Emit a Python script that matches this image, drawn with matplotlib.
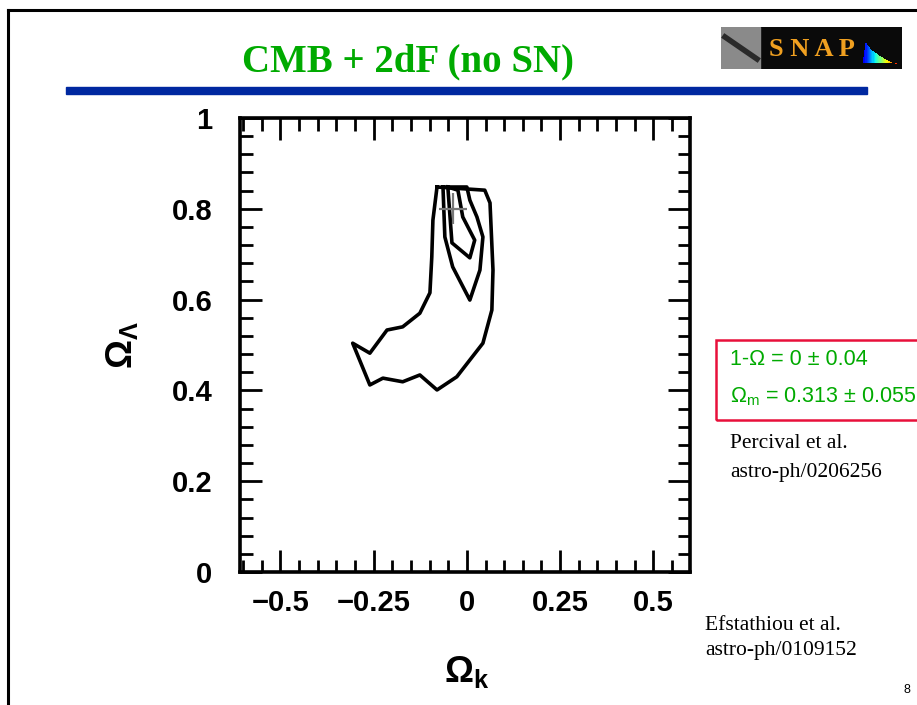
import matplotlib
matplotlib.use("Agg")
import matplotlib.pyplot as plt
from matplotlib.patches import Rectangle, Polygon
from matplotlib.ticker import MultipleLocator
import numpy as np

plt.rcParams['mathtext.fontset'] = 'custom'
plt.rcParams['mathtext.rm'] = 'Liberation Sans'
plt.rcParams['mathtext.it'] = 'Liberation Sans'
plt.rcParams['mathtext.bf'] = 'Liberation Sans:bold'

# contour outlines (Omega_k, Omega_Lambda)
outer_k = [-0.080, 0.048, 0.062, 0.070, 0.067, 0.043, 0.008, -0.027, -0.080,
           -0.126, -0.172, -0.225, -0.260, -0.306, -0.260, -0.214, -0.172,
           -0.126, -0.099, -0.094, -0.091, -0.080]
outer_l = [0.848, 0.841, 0.813, 0.665, 0.577, 0.504, 0.467, 0.430, 0.401,
           0.434, 0.419, 0.427, 0.412, 0.504, 0.482, 0.533, 0.540,
           0.570, 0.615, 0.694, 0.775, 0.848]
mid_k = [-0.064, -0.059, -0.038, 0.008, 0.035, 0.043, 0.027, 0.008, 0.0, -0.064]
mid_l = [0.848, 0.738, 0.672, 0.599, 0.665, 0.738, 0.782, 0.819, 0.848, 0.848]
inner_k = [-0.051, -0.040, 0.008, 0.021, -0.011, -0.024, -0.051]
inner_l = [0.848, 0.725, 0.692, 0.731, 0.782, 0.841, 0.848]
best_k, best_l = -0.038, 0.80
err_k, err_l = 0.038, 0.034

xticks = [-0.5, -0.25, 0, 0.25, 0.5]
xlabels = ['\u22120.5', '\u22120.25', '0', '0.25', '0.5']
yticks = [0, 0.2, 0.4, 0.6, 0.8, 1]
ylabels = ['0', '0.2', '0.4', '0.6', '0.8', '1']

green = '#00aa00'

fig = plt.figure(figsize=(9.17, 7.05), dpi=100)

# slide frame + header bar
fig.add_artist(plt.Line2D([8/917, 8/917], [0, 1 - 10/705], color='black', lw=2.2))
fig.add_artist(plt.Line2D([8/917, 1], [1 - 10/705, 1 - 10/705], color='black', lw=2.2))
fig.add_artist(Rectangle((66/917, 1 - 94/705), 801/917, 7/705, color='#0028a0'))
fig.text(408/917, 1 - 62/705, 'CMB + 2dF (no SN)', color=green, fontsize=28,
         fontweight='bold', family='Liberation Serif', ha='center', va='center')

# SNAP logo
lg = fig.add_axes([721/917, 1 - 69/705, 181/917, 42/705])
lg.set_xlim(0, 181)
lg.set_ylim(0, 42)
lg.axis('off')
lg.add_patch(Rectangle((0, 0), 181, 42, color='#0a0a0a'))
lg.add_patch(Rectangle((0, 0), 39, 42, color='#8a8a8a'))
lg.plot([4, 36], [32, 10], color='#2a2a2a', lw=4)
lg.text(91, 20, 'S N A P', color='#f0a020', fontsize=19, fontweight='bold',
        family='Liberation Serif', ha='center', va='center')
spec_x = np.linspace(142, 176, 30)
spec_cols = plt.cm.jet(np.linspace(0.1, 0.9, 30))
for i in range(29):
    top = 30 * (1 - (i / 29) ** 0.5) + 4 if i > 2 else 12 + i * 7
    lg.add_patch(Polygon([[spec_x[i], 6], [spec_x[i + 1], 6],
                          [spec_x[i + 1], min(top, 34)], [spec_x[i], min(top, 34)]],
                         color=spec_cols[i], lw=0))

# main plot
ax = fig.add_axes([240/917, 133/705, 450/917, 454/705])
ax.plot(outer_k, outer_l, color='black', lw=2.6)
ax.plot(mid_k, mid_l, color='black', lw=2.6)
ax.plot(inner_k, inner_l, color='black', lw=2.6)
ax.errorbar([best_k], [best_l], xerr=[err_k], yerr=[err_l], fmt='none',
            ecolor='#777777', elinewidth=1.6, capsize=0)

ax.set_xlim(-0.608, 0.598)
ax.set_ylim(0, 1)
ax.set_xticks(xticks)
ax.set_xticklabels(xlabels)
ax.set_yticks(yticks)
ax.set_yticklabels(ylabels)
ax.xaxis.set_minor_locator(MultipleLocator(0.05))
ax.yaxis.set_minor_locator(MultipleLocator(0.04))
ax.tick_params(which='both', direction='in', top=True, right=True, width=2)
ax.tick_params(which='major', length=16, labelsize=21, pad=12)
ax.tick_params(axis='y', which='major', pad=20)
ax.tick_params(which='minor', length=9)
for lab in ax.get_xticklabels() + ax.get_yticklabels():
    lab.set_fontweight('bold')
    lab.set_family('Liberation Sans')
for sp in ax.spines.values():
    sp.set_linewidth(2.6)

fig.text(467/917, 1 - 672/705, r'$\mathbf{\Omega_k}$', fontsize=26,
         ha='center', va='center')
fig.text(122/917, 1 - 345/705, r'$\mathbf{\Omega_\Lambda}$', fontsize=26,
         ha='center', va='center', rotation=90)

# result box
fig.add_artist(Rectangle((716/917, 1 - 420/705), 210/917, 80/705, fill=False,
                         edgecolor='#e8103a', lw=1.8))
fig.text(730/917, 1 - 365/705, '1-\u03a9 = 0 \u00b1 0.04', color=green,
         fontsize=15.5, family='Liberation Sans')
fig.text(730/917, 1 - 402/705, r'$\Omega_{\rm m}$' + ' = 0.313 \u00b1 0.055',
         color=green, fontsize=15.5, family='Liberation Sans')

fig.text(730/917, 1 - 448/705, 'Percival et al.', fontsize=15.5,
         family='Liberation Serif')
fig.text(730/917, 1 - 477/705, 'astro-ph/0206256', fontsize=15.5,
         family='Liberation Serif')
fig.text(705/917, 1 - 630/705, 'Efstathiou et al.', fontsize=15.5,
         family='Liberation Serif')
fig.text(705/917, 1 - 655/705, 'astro-ph/0109152', fontsize=15.5,
         family='Liberation Serif')
fig.text(907/917, 1 - 690/705, '8', fontsize=9, family='Liberation Sans',
         ha='center', va='center')

fig.savefig('out.png', dpi=100)
